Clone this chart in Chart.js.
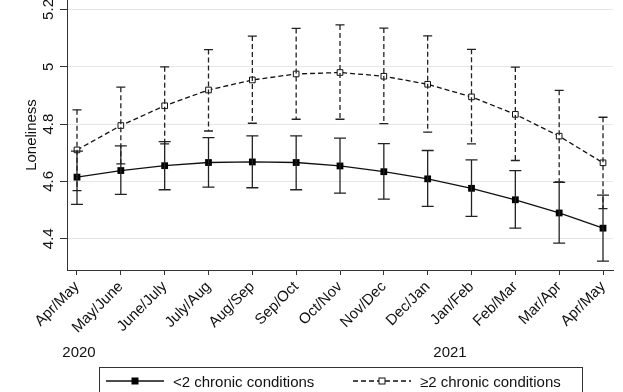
<!DOCTYPE html>
<html lang="en">
<head>
<meta charset="UTF-8">
<title>Loneliness by chronic conditions</title>
<script src="https://cdn.jsdelivr.net/npm/chart.js"></script>
<style>
    body { margin: 0; background: #fff; font-family: 'Liberation Sans', Arial, sans-serif; color: #111; }
    #wrap { position: relative; width: 623px; height: 392px; overflow: hidden; }
    #chart { position: absolute; left: 0; top: 0; }
    .year { position: absolute; top: 343px; font-size: 15px; transform: translateX(-50%); }
    #legend {
        position: absolute; left: 99px; top: 367px; width: 484px; height: 40px;
        border: 1px solid #333; box-sizing: border-box; font-size: 15px;
    }
    .item { position: absolute; top: 4px; height: 18px; display: flex; align-items: center; }
    .item svg { margin-right: 9px; }
</style>
</head>
<body>
<div id="wrap">
    <canvas id="chart" width="623" height="392"></canvas>
    <div class="year" style="left:79px">2020</div>
    <div class="year" style="left:450px">2021</div>
    <div id="legend">
        <div class="item" style="left:6px">
            <svg width="58" height="12"><line x1="0" y1="6" x2="58" y2="6" stroke="#111" stroke-width="1.3"/><rect x="25.5" y="2.5" width="7" height="7" fill="#000"/></svg>
            <span>&lt;2 chronic conditions</span>
        </div>
        <div class="item" style="left:253px">
            <svg width="58" height="12"><line x1="0" y1="6" x2="58" y2="6" stroke="#111" stroke-width="1.3" stroke-dasharray="5,3"/><rect x="26" y="3" width="6" height="6" fill="#fff" stroke="#111" stroke-width="1"/></svg>
            <span>≥2 chronic conditions</span>
        </div>
    </div>
</div>
<script>
    const periods = ['Apr/May', 'May/June', 'June/July', 'July/Aug', 'Aug/Sep', 'Sep/Oct', 'Oct/Nov',
        'Nov/Dec', 'Dec/Jan', 'Jan/Feb', 'Feb/Mar', 'Mar/Apr', 'Apr/May'];

    // <2 chronic conditions
    const lowMean  = [4.615, 4.638, 4.655, 4.666, 4.668, 4.666, 4.654, 4.634, 4.609, 4.576, 4.536, 4.490, 4.437];
    const lowUpper = [4.706, 4.724, 4.739, 4.753, 4.759, 4.759, 4.751, 4.732, 4.708, 4.675, 4.638, 4.597, 4.552];
    const lowLower = [4.520, 4.555, 4.571, 4.580, 4.578, 4.571, 4.559, 4.538, 4.513, 4.478, 4.437, 4.385, 4.322];

    // >=2 chronic conditions
    const highMean  = [4.710, 4.795, 4.864, 4.919, 4.954, 4.975, 4.980, 4.967, 4.939, 4.895, 4.834, 4.758, 4.665];
    const highUpper = [4.850, 4.929, 5.000, 5.060, 5.107, 5.134, 5.146, 5.135, 5.108, 5.061, 4.999, 4.918, 4.824];
    const highLower = [4.568, 4.661, 4.731, 4.776, 4.803, 4.817, 4.817, 4.802, 4.772, 4.731, 4.673, 4.598, 4.505];

    const yTicks = [4.4, 4.6, 4.8, 5, 5.2];

    const font = "'Liberation Sans', Arial, sans-serif";

    function pts(arr) {
        return arr.map((v, i) => ({ x: i, y: v }));
    }

    // draws the confidence intervals from the upper/lower arrays
    const errorBars = {
        id: 'errorBars',
        afterDatasetsDraw(chart) {
            const ctx = chart.ctx;
            const xs = chart.scales.x, ys = chart.scales.y;
            chart.data.datasets.forEach(ds => {
                ctx.save();
                ctx.strokeStyle = '#222';
                ctx.lineWidth = 1.3;
                ds.upper.forEach((u, i) => {
                    const x = xs.getPixelForValue(i);
                    const yU = ys.getPixelForValue(u);
                    const yL = ys.getPixelForValue(ds.lower[i]);
                    ctx.setLineDash(ds.borderDash || []);
                    ctx.beginPath();
                    ctx.moveTo(x, yU);
                    ctx.lineTo(x, yL);
                    ctx.stroke();
                    ctx.setLineDash([]);
                    ctx.beginPath();
                    ctx.moveTo(x - ds.capHalf, yU);
                    ctx.lineTo(x + ds.capHalf, yU);
                    ctx.moveTo(x - ds.capHalf, yL);
                    ctx.lineTo(x + ds.capHalf, yL);
                    ctx.stroke();
                });
                ctx.restore();
            });
        }
    };

    // y tick labels, rotated like the original
    const yLabels = {
        id: 'yLabels',
        afterDraw(chart) {
            const ctx = chart.ctx;
            const ys = chart.scales.y;
            ctx.save();
            ctx.fillStyle = '#111';
            ctx.font = '15px ' + font;
            ctx.textAlign = 'center';
            ctx.textBaseline = 'middle';
            yTicks.forEach(v => {
                ctx.save();
                ctx.translate(49, ys.getPixelForValue(v));
                ctx.rotate(-Math.PI / 2);
                ctx.fillText(String(v), 0, 0);
                ctx.restore();
            });
            ctx.restore();
        }
    };

    const ctx = document.getElementById('chart').getContext('2d');
    new Chart(ctx, {
        type: 'line',
        data: {
            datasets: [
                {
                    label: '<2 chronic conditions',
                    data: pts(lowMean),
                    upper: lowUpper,
                    lower: lowLower,
                    capHalf: 6,
                    borderColor: '#111',
                    borderWidth: 1.3,
                    pointStyle: 'rect',
                    pointRadius: 4.8,
                    pointBackgroundColor: '#000',
                    pointBorderColor: '#000',
                    pointBorderWidth: 0
                },
                {
                    label: '≥2 chronic conditions',
                    data: pts(highMean),
                    upper: highUpper,
                    lower: highLower,
                    capHalf: 4.5,
                    borderColor: '#111',
                    borderWidth: 1.3,
                    borderDash: [5, 3],
                    pointStyle: 'rect',
                    pointRadius: 4,
                    pointBackgroundColor: '#fff',
                    pointBorderColor: '#111',
                    pointBorderWidth: 1
                }
            ]
        },
        options: {
            responsive: false,
            animation: false,
            layout: { autoPadding: false, padding: { top: 0, right: 10, left: 0, bottom: 0 } },
            scales: {
                x: {
                    type: 'linear',
                    min: -0.228,
                    max: 12.228,
                    afterFit: s => { s.height = 122; },
                    border: { color: '#333', width: 1 },
                    grid: { drawOnChartArea: false, drawTicks: true, tickLength: 5, tickColor: '#333' },
                    ticks: {
                        stepSize: 1,
                        includeBounds: false,
                        autoSkip: false,
                        minRotation: 45,
                        maxRotation: 45,
                        padding: 3,
                        color: '#111',
                        font: { family: font, size: 15 },
                        callback: v => periods[v]
                    }
                },
                y: {
                    min: 4.291,
                    max: 5.233,
                    afterFit: s => { s.width = 67; },
                    border: { color: '#333', width: 1 },
                    grid: { color: '#e6e6e6', lineWidth: 1, drawTicks: true, tickLength: 7, tickColor: '#333' },
                    ticks: { stepSize: 0.2, includeBounds: false, display: false },
                    title: {
                        display: true,
                        text: 'Loneliness',
                        color: '#111',
                        font: { family: font, size: 15 },
                        padding: { top: 23, bottom: 0 }
                    }
                }
            },
            plugins: {
                legend: { display: false },
                tooltip: { enabled: false }
            }
        },
        plugins: [errorBars, yLabels]
    });
</script>
</body>
</html>
